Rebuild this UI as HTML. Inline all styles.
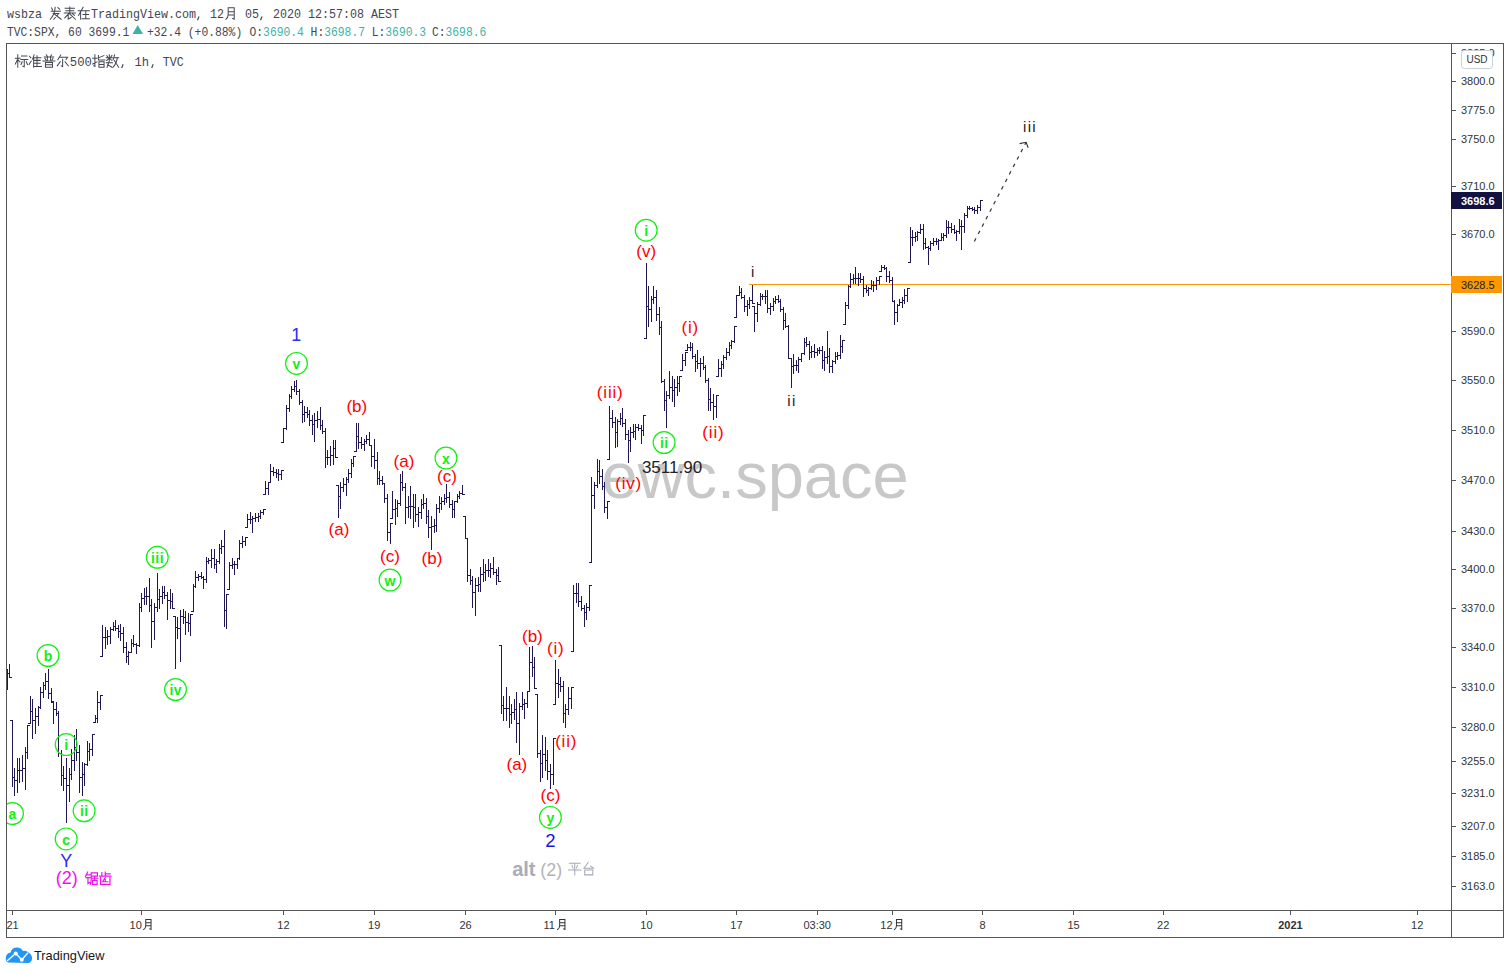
<!DOCTYPE html><html><head><meta charset="utf-8"><style>*{margin:0;padding:0}html,body{width:1510px;height:974px;background:#fff;overflow:hidden}svg{position:absolute;left:0;top:0}</style></head><body><svg width="1510" height="974"><text x="6.9" y="17.9" font-family="Liberation Mono" font-size="13" fill="#434651" textLength="35.00" lengthAdjust="spacingAndGlyphs">wsbza</text><path transform="translate(49.20,6.70) scale(13.2)" d="M.15 .35H.85M.45 .05Q.42 .6 .08 .95M.3 .52H.72L.35 .95M.42 .58L.9 .95M.66 .06L.8 .2M.18 .1L.26 .26" fill="none" stroke="#434651" stroke-width="0.0758" stroke-linecap="square"/><path transform="translate(63.20,6.70) scale(13.2)" d="M.15 .12H.85M.2 .3H.8M.08 .48H.92M.5 .02V.48M.45 .5L.12 .85M.38 .62V.95L.6 .82M.5 .55L.92 .95M.72 .55L.85 .66" fill="none" stroke="#434651" stroke-width="0.0758" stroke-linecap="square"/><path transform="translate(77.20,6.70) scale(13.2)" d="M.08 .3H.92M.45 .04L.1 .66M.26 .46V.96M.44 .6H.86M.65 .38V.9M.38 .92H.92" fill="none" stroke="#434651" stroke-width="0.0758" stroke-linecap="square"/><text x="90.9" y="17.9" font-family="Liberation Mono" font-size="13" fill="#434651" textLength="105.00" lengthAdjust="spacingAndGlyphs">TradingView.com</text><path transform="translate(195.90,6.70) scale(13.2)" d="M.22 .78L.14 .98" fill="none" stroke="#434651" stroke-width="0.0909" stroke-linecap="square"/><text x="209.9" y="17.9" font-family="Liberation Mono" font-size="13" fill="#434651" textLength="14.00" lengthAdjust="spacingAndGlyphs">12</text><path transform="translate(224.20,6.70) scale(13.2)" d="M.3 .08V.6Q.3 .85 .12 .96M.3 .08H.76V.95L.64 .9M.3 .38H.76M.3 .62H.76" fill="none" stroke="#434651" stroke-width="0.0758" stroke-linecap="square"/><text x="244.9" y="17.9" font-family="Liberation Mono" font-size="13" fill="#434651" textLength="14.00" lengthAdjust="spacingAndGlyphs">05</text><path transform="translate(258.90,6.70) scale(13.2)" d="M.22 .78L.14 .98" fill="none" stroke="#434651" stroke-width="0.0909" stroke-linecap="square"/><text x="272.9" y="17.9" font-family="Liberation Mono" font-size="13" fill="#434651" textLength="126.00" lengthAdjust="spacingAndGlyphs">2020 12:57:08 AEST</text><text x="6.9" y="35.6" font-family="Liberation Mono" font-size="12" fill="#434651" textLength="122.40" lengthAdjust="spacingAndGlyphs">TVC:SPX, 60 3699.1</text><path d="M132.5 34H143L137.75 25Z" fill="#3db3a6"/><text x="147" y="35.6" font-family="Liberation Mono" font-size="12" fill="#434651" textLength="95.20" lengthAdjust="spacingAndGlyphs">+32.4 (+0.88%)</text><text x="249.5" y="35.6" font-family="Liberation Mono" font-size="12" fill="#434651" textLength="13.60" lengthAdjust="spacingAndGlyphs">O:</text><text x="263.1" y="35.6" font-family="Liberation Mono" font-size="12" fill="#3db3a6" textLength="40.80" lengthAdjust="spacingAndGlyphs">3690.4</text><text x="310.6" y="35.6" font-family="Liberation Mono" font-size="12" fill="#434651" textLength="13.60" lengthAdjust="spacingAndGlyphs">H:</text><text x="324.20000000000005" y="35.6" font-family="Liberation Mono" font-size="12" fill="#3db3a6" textLength="40.80" lengthAdjust="spacingAndGlyphs">3698.7</text><text x="371.7" y="35.6" font-family="Liberation Mono" font-size="12" fill="#434651" textLength="13.60" lengthAdjust="spacingAndGlyphs">L:</text><text x="385.3" y="35.6" font-family="Liberation Mono" font-size="12" fill="#3db3a6" textLength="40.80" lengthAdjust="spacingAndGlyphs">3690.3</text><text x="431.9" y="35.6" font-family="Liberation Mono" font-size="12" fill="#434651" textLength="13.60" lengthAdjust="spacingAndGlyphs">C:</text><text x="445.5" y="35.6" font-family="Liberation Mono" font-size="12" fill="#3db3a6" textLength="40.80" lengthAdjust="spacingAndGlyphs">3698.6</text><path transform="translate(14.80,54.30) scale(13.5)" d="M.04 .3H.4M.22 .04V.96M.22 .35L.04 .72M.25 .42L.38 .56M.5 .12H.9M.45 .38H.96M.7 .38V.92L.6 .88M.55 .55L.46 .76M.85 .55L.94 .76" fill="none" stroke="#434651" stroke-width="0.0741" stroke-linecap="square"/><path transform="translate(28.50,54.30) scale(13.5)" d="M.08 .15L.18 .26M.04 .76L.2 .5M.42 .04L.3 .36M.38 .25V.96M.38 .25H.92M.63 .1V.9M.4 .45H.86M.4 .66H.86M.38 .9H.96" fill="none" stroke="#434651" stroke-width="0.0741" stroke-linecap="square"/><path transform="translate(42.20,54.30) scale(13.5)" d="M.3 .04L.38 .15M.7 .04L.62 .15M.15 .2H.85M.38 .2V.5M.62 .2V.5M.06 .5H.94M.2 .3L.28 .42M.8 .3L.72 .42M.24 .6V.96H.76V.6ZM.24 .77H.76" fill="none" stroke="#434651" stroke-width="0.0741" stroke-linecap="square"/><path transform="translate(55.90,54.30) scale(13.5)" d="M.36 .04L.14 .4M.25 .22H.86L.75 .38M.5 .36V.92L.4 .86M.32 .55L.1 .86M.68 .55L.92 .86" fill="none" stroke="#434651" stroke-width="0.0741" stroke-linecap="square"/><text x="69.8" y="65.9" font-family="Liberation Mono" font-size="13" fill="#434651" textLength="22.05" lengthAdjust="spacingAndGlyphs">500</text><path transform="translate(92.20,54.30) scale(13.5)" d="M.04 .3H.36M.2 .04V.9L.12 .85M.04 .72L.36 .56M.46 .08V.42H.94M.46 .27L.86 .1M.5 .55V.96H.88V.55ZM.5 .75H.88" fill="none" stroke="#434651" stroke-width="0.0741" stroke-linecap="square"/><path transform="translate(105.70,54.30) scale(13.5)" d="M.04 .25H.5M.27 .04V.48M.08 .1L.15 .2M.46 .08L.38 .2M.27 .28L.07 .46M.27 .28L.46 .46M.04 .62H.5M.26 .5L.1 .96M.15 .76L.46 .96M.66 .04L.55 .4M.6 .25H.96M.86 .25Q.8 .7 .54 .96M.64 .46L.96 .96" fill="none" stroke="#434651" stroke-width="0.0741" stroke-linecap="square"/><path transform="translate(120.00,54.30) scale(13.5)" d="M.22 .78L.14 .98" fill="none" stroke="#434651" stroke-width="0.0889" stroke-linecap="square"/><text x="134.5" y="65.9" font-family="Liberation Mono" font-size="13" fill="#434651" textLength="14.60" lengthAdjust="spacingAndGlyphs">1h</text><path transform="translate(150.00,54.30) scale(13.5)" d="M.22 .78L.14 .98" fill="none" stroke="#434651" stroke-width="0.0889" stroke-linecap="square"/><text x="162.8" y="65.9" font-family="Liberation Mono" font-size="13" fill="#434651" textLength="21.00" lengthAdjust="spacingAndGlyphs">TVC</text><defs><clipPath id="cp"><rect x="7" y="44" width="1444" height="866"/></clipPath></defs><g clip-path="url(#cp)"><text x="601.5" y="498" font-family="Liberation Sans" font-size="65" fill="#c8c8c8">ewc.space</text><path d="M749 284.5H1451" stroke="#ff9800" stroke-width="1" shape-rendering="crispEdges"/><path d="M7.5 669V690M5 679.5H7M8 673.5H10M9.5 664V678M7 673.5H9M10 677.5H12M12.5 720V787M10 720.5H12M13 777.5H15M14.5 768V796M12 777.5H14M15 780.5H17M17.5 758V793M15 780.5H17M18 770.5H20M19.5 758V783M17 770.5H19M20 770.5H22M22.5 755V782M20 770.5H22M23 768.5H25M25.5 747V790M23 768.5H25M26 752.5H28M27.5 725V759M25 752.5H27M28 725.5H30M30.5 696V724M28 723.5H30M31 711.5H33M32.5 699V739M30 711.5H32M33 720.5H35M35.5 708V734M33 720.5H35M36 716.5H38M38.5 706V726M36 716.5H38M39 707.5H41M40.5 687V709M38 707.5H40M41 692.5H43M43.5 682V698M41 692.5H43M44 685.5H46M45.5 673V690M43 685.5H45M46 681.5H48M48.5 669V699M46 681.5H48M49 693.5H51M51.5 688V702M49 693.5H51M52 701.5H54M53.5 702V724M51 702.5H53M54 709.5H56M56.5 702V716M54 709.5H56M57 713.5H59M58.5 711V757M56 713.5H58M59 753.5H61M61.5 750V786M59 753.5H61M62 775.5H64M63.5 766V791M61 775.5H63M64 778.5H66M66.5 758V823M64 778.5H66M67 785.5H69M69.5 768V802M67 785.5H69M70 774.5H72M71.5 749V780M69 774.5H71M72 760.5H74M74.5 735V771M72 760.5H74M75 747.5H77M76.5 729V761M74 747.5H76M77 752.5H79M79.5 745V793M77 752.5H79M80 777.5H82M82.5 762V796M80 777.5H82M83 774.5H85M84.5 763V786M82 774.5H84M85 764.5H87M87.5 741V766M85 764.5H87M88 751.5H90M89.5 743V761M87 751.5H89M90 749.5H92M92.5 734V756M90 749.5H92M93 734.5H95M95.5 715V723M93 722.5H95M96 718.5H98M97.5 691V723M95 718.5H97M98 702.5H100M100.5 695V710M98 702.5H100M101 695.5H103M102.5 625V657M100 656.5H102M103 637.5H105M105.5 627V649M103 637.5H105M106 637.5H108M107.5 630V645M105 637.5H107M108 636.5H110M110.5 627V644M108 636.5H110M111 629.5H113M113.5 622V631M111 629.5H113M114 626.5H116M115.5 620V631M113 626.5H115M116 628.5H118M118.5 625V638M116 628.5H118M119 631.5H121M120.5 624V641M118 631.5H120M121 633.5H123M123.5 627V653M121 633.5H123M124 647.5H126M126.5 642V663M124 647.5H126M127 656.5H129M128.5 651V665M126 656.5H128M129 652.5H131M131.5 639V653M129 652.5H131M132 643.5H134M133.5 635V647M131 643.5H133M134 644.5H136M136.5 643V654M134 644.5H136M137 645.5H139M139.5 603V647M137 645.5H139M140 607.5H142M141.5 593V612M139 607.5H141M142 598.5H144M144.5 588V605M142 598.5H144M145 596.5H147M146.5 587V605M144 596.5H146M147 596.5H149M149.5 578V612M147 596.5H149M150 605.5H152M151.5 599V648M149 605.5H151M152 621.5H154M154.5 603V640M152 621.5H154M155 607.5H157M157.5 573V612M155 607.5H157M158 599.5H160M159.5 589V609M157 599.5H159M160 596.5H162M162.5 586V604M160 596.5H162M163 592.5H165M164.5 586V599M162 592.5H164M165 595.5H167M167.5 592V620M165 595.5H167M168 600.5H170M170.5 589V609M168 600.5H170M171 601.5H173M172.5 593V609M170 601.5H172M173 608.5H175M175.5 616V669M173 616.5H175M176 627.5H178M177.5 617V639M175 627.5H177M178 628.5H180M180.5 610V662M178 628.5H180M181 616.5H183M183.5 609V624M181 616.5H183M184 617.5H186M185.5 611V635M183 617.5H185M186 622.5H188M188.5 613V632M186 622.5H188M189 623.5H191M190.5 614V636M188 623.5H190M191 614.5H193M193.5 584V612M191 611.5H193M194 586.5H196M195.5 571V588M193 586.5H195M196 577.5H198M198.5 574V581M196 577.5H198M199 576.5H201M201.5 572V579M199 576.5H201M202 577.5H204M203.5 576V589M201 577.5H203M204 579.5H206M206.5 557V583M204 579.5H206M207 561.5H209M208.5 558V564M206 561.5H208M209 560.5H211M211.5 549V568M209 560.5H211M212 558.5H214M214.5 549V569M212 558.5H214M215 564.5H217M216.5 559V573M214 564.5H216M217 561.5H219M219.5 544V564M217 561.5H219M220 548.5H222M221.5 540V554M219 548.5H221M222 546.5H224M224.5 530V627M222 546.5H224M225 610.5H227M226.5 594V629M224 610.5H226M227 594.5H229M229.5 562V590M227 589.5H229M230 565.5H232M232.5 558V569M230 565.5H232M233 564.5H235M234.5 561V575M232 564.5H234M235 564.5H237M237.5 558V569M235 564.5H237M238 558.5H240M239.5 540V560M237 558.5H239M240 543.5H242M242.5 536V548M240 543.5H242M243 541.5H245M245.5 537V546M243 541.5H245M246 537.5H248M247.5 514V528M245 527.5H247M248 519.5H250M250.5 512V524M248 519.5H250M251 519.5H253M252.5 516V533M250 519.5H252M253 518.5H255M255.5 513V522M253 518.5H255M256 517.5H258M258.5 513V522M256 517.5H258M259 516.5H261M260.5 510V519M258 516.5H260M261 512.5H263M263.5 509V515M261 512.5H263M264 509.5H266M265.5 481V495M263 494.5H265M266 488.5H268M268.5 482V495M266 488.5H268M269 482.5H271M270.5 464V483M268 482.5H270M271 471.5H273M273.5 467V476M271 471.5H273M274 472.5H276M276.5 469V478M274 472.5H276M277 473.5H279M278.5 469V481M276 473.5H278M279 474.5H281M281.5 470V480M279 474.5H281M282 470.5H284M283.5 428V443M281 442.5H283M284 428.5H286M286.5 405V430M284 428.5H286M287 408.5H289M289.5 394V412M287 408.5H289M290 396.5H292M291.5 386V399M289 396.5H291M292 389.5H294M294.5 381V392M292 389.5H294M295 386.5H297M296.5 380V395M294 386.5H296M297 391.5H299M299.5 389V405M297 391.5H299M300 402.5H302M302.5 400V423M300 402.5H302M303 414.5H305M304.5 406V422M302 414.5H304M305 412.5H307M307.5 407V418M305 412.5H307M308 414.5H310M309.5 410V426M307 414.5H309M310 420.5H312M312.5 415V435M310 420.5H312M313 424.5H315M314.5 413V442M312 424.5H314M315 420.5H317M317.5 411V428M315 420.5H317M318 419.5H320M320.5 407V430M318 419.5H320M321 425.5H323M322.5 420V434M320 425.5H322M323 431.5H325M325.5 428V468M323 431.5H325M326 457.5H328M327.5 450V465M325 457.5H327M328 457.5H330M330.5 446V466M328 457.5H330M331 455.5H333M333.5 440V465M331 455.5H333M334 448.5H336M335.5 440V458M333 448.5H335M336 457.5H338M338.5 485V518M336 485.5H338M339 496.5H341M340.5 482V509M338 496.5H340M341 487.5H343M343.5 478V492M341 487.5H343M344 484.5H346M346.5 477V496M344 484.5H346M347 479.5H349M348.5 469V483M346 479.5H348M349 473.5H351M351.5 459V478M349 473.5H351M352 463.5H354M353.5 456V467M351 463.5H353M354 456.5H356M356.5 423V452M354 451.5H356M357 436.5H359M358.5 423V449M356 436.5H358M359 442.5H361M361.5 437V449M359 442.5H361M362 444.5H364M364.5 439V451M362 444.5H364M365 441.5H367M366.5 435V444M364 441.5H366M367 439.5H369M369.5 432V446M367 439.5H369M370 445.5H372M371.5 445V467M369 445.5H371M372 456.5H374M374.5 439V469M372 456.5H374M375 460.5H377M377.5 452V485M375 460.5H377M378 478.5H380M379.5 471V485M377 478.5H379M380 480.5H382M382.5 476V485M380 480.5H382M383 483.5H385M384.5 483V503M382 483.5H384M385 498.5H387M387.5 494V541M385 498.5H387M388 532.5H390M390.5 523V544M388 532.5H390M391 523.5H393M392.5 491V519M390 518.5H392M393 509.5H395M395.5 499V525M393 509.5H395M396 508.5H398M397.5 500V517M395 508.5H397M398 503.5H400M400.5 474V506M398 503.5H400M401 482.5H403M402.5 471V491M400 482.5H402M403 487.5H405M405.5 483V524M403 487.5H405M406 507.5H408M408.5 496V518M406 507.5H408M409 506.5H411M410.5 486V519M408 506.5H410M411 506.5H413M413.5 494V528M411 506.5H413M414 507.5H416M415.5 494V522M413 507.5H415M416 514.5H418M418.5 507V527M416 514.5H418M419 512.5H421M421.5 499V519M419 512.5H421M422 504.5H424M423.5 494V509M421 504.5H423M424 503.5H426M426.5 498V524M424 503.5H426M427 516.5H429M428.5 510V538M426 516.5H428M429 527.5H431M431.5 516V550M429 527.5H431M432 526.5H434M434.5 519V533M432 526.5H434M435 525.5H437M436.5 504V532M434 525.5H436M437 508.5H439M439.5 496V513M437 508.5H439M440 503.5H442M441.5 497V510M439 503.5H441M442 501.5H444M444.5 494V505M442 501.5H444M445 498.5H447M446.5 484V503M444 498.5H446M447 497.5H449M449.5 492V508M447 497.5H449M450 504.5H452M452.5 500V518M450 504.5H452M453 509.5H455M454.5 501V518M452 509.5H454M455 501.5H457M457.5 494V503M455 501.5H457M458 496.5H460M459.5 491V499M457 496.5H459M460 493.5H462M462.5 485V495M460 493.5H462M463 494.5H465M465.5 516V539M463 516.5H465M466 538.5H468M467.5 538V582M465 538.5H467M468 575.5H470M470.5 569V585M468 575.5H470M471 580.5H473M472.5 576V608M470 580.5H472M473 592.5H475M475.5 578V616M473 592.5H475M476 585.5H478M478.5 577V592M476 585.5H478M479 584.5H481M480.5 567V592M478 584.5H480M481 574.5H483M483.5 559V582M481 574.5H483M484 572.5H486M485.5 564V581M483 572.5H485M486 570.5H488M488.5 559V577M486 570.5H488M489 570.5H491M490.5 563V578M488 570.5H490M491 568.5H493M493.5 557V575M491 568.5H493M494 572.5H496M496.5 569V585M494 572.5H496M497 575.5H499M498.5 567V582M496 575.5H498M499 581.5H501M501.5 645V714M499 645.5H501M502 705.5H504M503.5 696V721M501 705.5H503M504 708.5H506M506.5 687V721M504 708.5H506M507 708.5H509M509.5 696V728M507 708.5H509M510 714.5H512M511.5 704V724M509 714.5H511M512 712.5H514M514.5 699V720M512 712.5H514M515 709.5H517M516.5 692V743M514 709.5H516M517 723.5H519M519.5 703V755M517 723.5H519M520 706.5H522M522.5 692V710M520 706.5H522M523 704.5H525M524.5 699V719M522 704.5H524M525 703.5H527M527.5 691V708M525 703.5H527M528 691.5H530M529.5 647V692M527 691.5H529M530 662.5H532M532.5 646V677M530 662.5H532M533 667.5H535M534.5 657V689M532 667.5H534M535 688.5H537M537.5 694V758M535 694.5H537M538 753.5H540M540.5 750V782M538 753.5H540M541 763.5H543M542.5 735V778M540 763.5H542M543 754.5H545M545.5 737V771M543 754.5H545M546 760.5H548M547.5 750V780M545 760.5H547M548 771.5H550M550.5 764V789M548 771.5H550M551 774.5H553M553.5 738V785M551 774.5H553M554 738.5H556M555.5 660V705M553 704.5H555M556 683.5H558M558.5 669V698M556 683.5H558M559 684.5H561M560.5 677V692M558 684.5H560M561 686.5H563M563.5 681V723M561 686.5H563M564 713.5H566M565.5 704V728M563 713.5H565M566 709.5H568M568.5 687V715M566 709.5H568M569 698.5H571M571.5 687V709M569 698.5H571M572 687.5H574M573.5 585V652M571 651.5H573M574 593.5H576M576.5 583V603M574 593.5H576M577 593.5H579M578.5 583V607M576 593.5H578M579 601.5H581M581.5 596V611M579 601.5H581M582 608.5H584M584.5 605V627M582 608.5H584M585 612.5H587M586.5 603V620M584 612.5H586M587 607.5H589M589.5 585V611M587 607.5H589M590 585.5H592M591.5 477V563M589 562.5H591M592 495.5H594M594.5 482V509M592 495.5H594M595 485.5H597M597.5 459V488M595 485.5H597M598 471.5H600M599.5 460V484M597 471.5H599M600 476.5H602M602.5 469V490M600 476.5H602M603 486.5H605M604.5 482V513M602 486.5H604M605 507.5H607M607.5 501V519M605 507.5H607M608 501.5H610M609.5 406V460M607 459.5H609M610 418.5H612M612.5 410V428M610 418.5H612M613 422.5H615M615.5 417V448M613 422.5H615M616 432.5H618M617.5 419V447M615 432.5H617M618 421.5H620M620.5 413V425M618 421.5H620M621 418.5H623M622.5 408V427M620 418.5H622M623 423.5H625M625.5 419V440M623 423.5H625M626 434.5H628M628.5 430V463M626 434.5H628M629 440.5H631M630.5 427V452M628 440.5H630M631 432.5H633M633.5 424V438M631 432.5H633M634 431.5H636M635.5 424V440M633 431.5H635M636 427.5H638M638.5 424V431M636 427.5H638M639 428.5H641M641.5 425V444M639 428.5H641M642 430.5H644M643.5 415V436M641 430.5H643M644 415.5H646M646.5 263V339M644 338.5H646M647 306.5H649M648.5 286V327M646 306.5H648M649 309.5H651M651.5 296V322M649 309.5H651M652 299.5H654M653.5 286V304M651 299.5H653M654 297.5H656M656.5 290V321M654 297.5H656M657 314.5H659M659.5 307V335M657 314.5H659M660 327.5H662M661.5 321V383M659 327.5H661M662 381.5H664M664.5 379V411M662 381.5H664M665 400.5H667M666.5 391V428M664 400.5H666M667 395.5H669M669.5 371V399M667 395.5H669M670 387.5H672M672.5 376V402M670 387.5H672M673 390.5H675M674.5 379V407M672 390.5H674M675 387.5H677M677.5 376V396M675 387.5H677M678 383.5H680M679.5 376V392M677 383.5H679M680 376.5H682M682.5 354V371M680 370.5H682M683 360.5H685M685.5 352V366M683 360.5H685M686 352.5H688M687.5 344V351M685 350.5H687M688 347.5H690M690.5 342V351M688 347.5H690M691 347.5H693M692.5 343V359M690 347.5H692M693 356.5H695M695.5 354V372M693 356.5H695M696 361.5H698M697.5 350V369M695 361.5H697M698 363.5H700M700.5 358V377M698 363.5H700M701 363.5H703M703.5 356V370M701 363.5H703M704 367.5H706M705.5 365V383M703 367.5H705M706 380.5H708M708.5 378V411M706 380.5H708M709 399.5H711M710.5 388V411M708 399.5H710M711 402.5H713M713.5 394V420M711 402.5H713M714 406.5H716M716.5 395V418M714 406.5H716M717 395.5H719M718.5 359V377M716 376.5H718M719 368.5H721M721.5 361V377M719 368.5H721M722 364.5H724M723.5 355V369M721 364.5H723M724 357.5H726M726.5 348V360M724 357.5H726M727 352.5H729M729.5 342V356M727 352.5H729M730 345.5H732M731.5 340V349M729 345.5H731M732 341.5H734M734.5 326V343M732 341.5H734M735 326.5H737M736.5 295V318M734 317.5H736M737 295.5H739M739.5 286V296M737 295.5H739M740 292.5H742M741.5 288V299M739 292.5H741M742 297.5H744M744.5 295V312M742 297.5H744M745 306.5H747M747.5 300V316M745 306.5H747M748 304.5H750M749.5 297V309M747 304.5H749M750 300.5H752M752.5 285V304M750 300.5H752M753 303.5H755M754.5 306V332M752 306.5H754M755 313.5H757M757.5 302V322M755 313.5H757M758 304.5H760M760.5 293V306M758 304.5H760M761 296.5H763M762.5 294V300M760 296.5H762M763 296.5H765M765.5 290V304M763 296.5H765M766 296.5H768M767.5 290V313M765 296.5H767M768 308.5H770M770.5 303V315M768 308.5H770M771 306.5H773M773.5 298V311M771 306.5H773M774 301.5H776M775.5 296V304M773 301.5H775M776 299.5H778M778.5 295V303M776 299.5H778M779 301.5H781M780.5 299V312M778 301.5H780M781 309.5H783M783.5 307V330M781 309.5H783M784 320.5H786M785.5 313V328M783 320.5H785M786 326.5H788M788.5 325V359M786 326.5H788M789 358.5H791M791.5 358V388M789 358.5H791M792 366.5H794M793.5 354V374M791 366.5H793M794 365.5H796M796.5 360V371M794 365.5H796M797 365.5H799M798.5 357V373M796 365.5H798M799 359.5H801M801.5 353V362M799 359.5H801M802 353.5H804M804.5 338V355M802 353.5H804M805 342.5H807M806.5 337V347M804 342.5H806M807 344.5H809M809.5 341V360M807 344.5H809M810 352.5H812M811.5 346V358M809 352.5H811M812 351.5H814M814.5 344V358M812 351.5H814M815 352.5H817M817.5 348V356M815 352.5H817M818 350.5H820M819.5 347V354M817 350.5H819M820 350.5H822M822.5 346V369M820 350.5H822M823 360.5H825M824.5 351V371M822 360.5H824M825 357.5H827M827.5 331V364M825 357.5H827M828 356.5H830M829.5 348V373M827 356.5H829M830 366.5H832M832.5 360V373M830 366.5H832M833 361.5H835M835.5 352V364M833 361.5H835M836 356.5H838M837.5 352V360M835 356.5H837M838 355.5H840M840.5 335V359M838 355.5H840M841 346.5H843M842.5 340V353M840 346.5H842M843 340.5H845M845.5 302V325M843 324.5H845M846 305.5H848M848.5 285V309M846 305.5H848M849 286.5H851M850.5 273V288M848 286.5H850M851 279.5H853M853.5 274V284M851 279.5H853M854 278.5H856M855.5 267V284M853 278.5H855M856 278.5H858M858.5 273V286M856 278.5H858M859 278.5H861M860.5 273V283M858 278.5H860M861 279.5H863M863.5 276V297M861 279.5H863M864 288.5H866M866.5 285V293M864 288.5H866M867 290.5H869M868.5 287V296M866 290.5H868M869 288.5H871M871.5 280V290M869 288.5H871M872 285.5H874M873.5 281V292M871 285.5H873M874 285.5H876M876.5 277V290M874 285.5H876M877 280.5H879M879.5 276V285M877 280.5H879M880 276.5H882M881.5 265V272M879 271.5H881M882 267.5H884M884.5 265V270M882 267.5H884M885 268.5H887M886.5 267V282M884 268.5H886M887 276.5H889M889.5 271V283M887 276.5H889M890 280.5H892M892.5 277V302M890 280.5H892M893 301.5H895M894.5 300V325M892 301.5H894M895 312.5H897M897.5 304V322M895 312.5H897M898 305.5H900M899.5 299V306M897 305.5H899M900 302.5H902M902.5 297V308M900 302.5H902M903 300.5H905M904.5 289V304M902 300.5H904M905 295.5H907M907.5 288V302M905 295.5H907M908 288.5H910M910.5 227V263M908 262.5H910M911 237.5H913M912.5 230V246M910 237.5H912M913 237.5H915M915.5 232V242M913 237.5H915M916 236.5H918M917.5 231V241M915 236.5H917M918 232.5H920M920.5 224V234M918 232.5H920M921 229.5H923M923.5 224V250M921 229.5H923M924 243.5H926M925.5 238V249M923 243.5H925M926 247.5H928M928.5 246V265M926 247.5H928M929 248.5H931M930.5 241V251M928 248.5H930M931 243.5H933M933.5 238V246M931 243.5H933M934 241.5H936M936.5 238V245M934 241.5H936M937 241.5H939M938.5 239V250M936 241.5H938M939 240.5H941M941.5 233V241M939 240.5H941M942 237.5H944M943.5 233V241M941 237.5H943M944 235.5H946M946.5 220V238M944 235.5H946M947 227.5H949M948.5 221V234M946 227.5H948M949 227.5H951M951.5 223V233M949 227.5H951M952 229.5H954M954.5 225V234M952 229.5H954M955 232.5H957M956.5 230V241M954 232.5H956M957 231.5H959M959.5 219V234M957 231.5H959M960 226.5H962M961.5 220V250M959 226.5H961M962 226.5H964M964.5 213V233M962 226.5H964M965 215.5H967M967.5 206V218M965 215.5H967M968 208.5H970M969.5 206V210M967 208.5H969M970 208.5H972M972.5 207V211M970 208.5H972M973 209.5H975M974.5 207V214M972 209.5H974M975 210.5H977M977.5 205V214M975 210.5H977M978 207.5H980M980.5 200V211M978 207.5H980M981 200.5H983" stroke="#211650" stroke-width="1" fill="none" shape-rendering="crispEdges"/><path d="M974.3 241.5L1026.1 142.3" stroke="#333" stroke-width="1.2" stroke-dasharray="3.6 4.8" fill="none"/><path d="M1019.6 143.6L1026.1 142.3L1028.2 147.7" stroke="#333" stroke-width="1.1" fill="none"/><circle cx="12.5" cy="813.5" r="10.9" fill="none" stroke="#12ee12" stroke-width="1.2"/><text x="12.7" y="819.1" font-family="Liberation Sans" font-size="14" fill="#12ee12" text-anchor="middle" font-weight="bold" letter-spacing="0.4">a</text><circle cx="48" cy="655.5" r="10.9" fill="none" stroke="#12ee12" stroke-width="1.2"/><text x="48.2" y="661.1" font-family="Liberation Sans" font-size="14" fill="#12ee12" text-anchor="middle" font-weight="bold" letter-spacing="0.4">b</text><circle cx="66.2" cy="744.6" r="10.9" fill="none" stroke="#12ee12" stroke-width="1.2"/><text x="66.4" y="750.2" font-family="Liberation Sans" font-size="14" fill="#12ee12" text-anchor="middle" font-weight="bold" letter-spacing="0.4">i</text><circle cx="66.2" cy="838.9" r="10.9" fill="none" stroke="#12ee12" stroke-width="1.2"/><text x="66.4" y="844.5" font-family="Liberation Sans" font-size="14" fill="#12ee12" text-anchor="middle" font-weight="bold" letter-spacing="0.4">c</text><circle cx="84.1" cy="810.8" r="10.9" fill="none" stroke="#12ee12" stroke-width="1.2"/><text x="84.3" y="816.4" font-family="Liberation Sans" font-size="14" fill="#12ee12" text-anchor="middle" font-weight="bold" letter-spacing="0.4">ii</text><circle cx="157.3" cy="557.3" r="10.9" fill="none" stroke="#12ee12" stroke-width="1.2"/><text x="157.5" y="562.9" font-family="Liberation Sans" font-size="14" fill="#12ee12" text-anchor="middle" font-weight="bold" letter-spacing="0.4">iii</text><circle cx="175.5" cy="689.5" r="10.9" fill="none" stroke="#12ee12" stroke-width="1.2"/><text x="175.7" y="695.1" font-family="Liberation Sans" font-size="14" fill="#12ee12" text-anchor="middle" font-weight="bold" letter-spacing="0.4">iv</text><circle cx="296.5" cy="363.4" r="10.9" fill="none" stroke="#12ee12" stroke-width="1.2"/><text x="296.7" y="369.0" font-family="Liberation Sans" font-size="14" fill="#12ee12" text-anchor="middle" font-weight="bold" letter-spacing="0.4">v</text><circle cx="390" cy="580" r="10.9" fill="none" stroke="#12ee12" stroke-width="1.2"/><text x="390.2" y="585.6" font-family="Liberation Sans" font-size="14" fill="#12ee12" text-anchor="middle" font-weight="bold" letter-spacing="0.4">w</text><circle cx="446" cy="458" r="10.9" fill="none" stroke="#12ee12" stroke-width="1.2"/><text x="446.2" y="463.6" font-family="Liberation Sans" font-size="14" fill="#12ee12" text-anchor="middle" font-weight="bold" letter-spacing="0.4">x</text><circle cx="550.4" cy="817.4" r="10.9" fill="none" stroke="#12ee12" stroke-width="1.2"/><text x="550.6" y="823.0" font-family="Liberation Sans" font-size="14" fill="#12ee12" text-anchor="middle" font-weight="bold" letter-spacing="0.4">y</text><circle cx="646.2" cy="230.2" r="10.9" fill="none" stroke="#12ee12" stroke-width="1.2"/><text x="646.4000000000001" y="235.79999999999998" font-family="Liberation Sans" font-size="14" fill="#12ee12" text-anchor="middle" font-weight="bold" letter-spacing="0.4">i</text><circle cx="664.1" cy="442.5" r="10.9" fill="none" stroke="#12ee12" stroke-width="1.2"/><text x="664.3000000000001" y="448.1" font-family="Liberation Sans" font-size="14" fill="#12ee12" text-anchor="middle" font-weight="bold" letter-spacing="0.4">ii</text><text x="339" y="535" font-family="Liberation Sans" font-size="17" fill="#ff0000" text-anchor="middle" font-weight="normal" letter-spacing="0">(a)</text><text x="356.8" y="412.3" font-family="Liberation Sans" font-size="17" fill="#ff0000" text-anchor="middle" font-weight="normal" letter-spacing="0">(b)</text><text x="390" y="562" font-family="Liberation Sans" font-size="17" fill="#ff0000" text-anchor="middle" font-weight="normal" letter-spacing="0">(c)</text><text x="404" y="467" font-family="Liberation Sans" font-size="17" fill="#ff0000" text-anchor="middle" font-weight="normal" letter-spacing="0">(a)</text><text x="432" y="564" font-family="Liberation Sans" font-size="17" fill="#ff0000" text-anchor="middle" font-weight="normal" letter-spacing="0">(b)</text><text x="447" y="482" font-family="Liberation Sans" font-size="17" fill="#ff0000" text-anchor="middle" font-weight="normal" letter-spacing="0">(c)</text><text x="516.9" y="770" font-family="Liberation Sans" font-size="17" fill="#ff0000" text-anchor="middle" font-weight="normal" letter-spacing="0">(a)</text><text x="532.4" y="642.2" font-family="Liberation Sans" font-size="17" fill="#ff0000" text-anchor="middle" font-weight="normal" letter-spacing="0">(b)</text><text x="550.4" y="800.5" font-family="Liberation Sans" font-size="17" fill="#ff0000" text-anchor="middle" font-weight="normal" letter-spacing="0">(c)</text><text x="555.7" y="654.1" font-family="Liberation Sans" font-size="17" fill="#ff0000" text-anchor="middle" font-weight="normal" letter-spacing="0.8">(i)</text><text x="566.2" y="747" font-family="Liberation Sans" font-size="17" fill="#ff0000" text-anchor="middle" font-weight="normal" letter-spacing="0.8">(ii)</text><text x="610.2" y="398.2" font-family="Liberation Sans" font-size="17" fill="#ff0000" text-anchor="middle" font-weight="normal" letter-spacing="0.8">(iii)</text><text x="628.7" y="489" font-family="Liberation Sans" font-size="17" fill="#ff0000" text-anchor="middle" font-weight="normal" letter-spacing="0.8">(iv)</text><text x="646.2" y="256.8" font-family="Liberation Sans" font-size="17" fill="#ff0000" text-anchor="middle" font-weight="normal" letter-spacing="0">(v)</text><text x="690.3" y="332.8" font-family="Liberation Sans" font-size="17" fill="#ff0000" text-anchor="middle" font-weight="normal" letter-spacing="0.8">(i)</text><text x="713.4" y="438.2" font-family="Liberation Sans" font-size="17" fill="#ff0000" text-anchor="middle" font-weight="normal" letter-spacing="0.8">(ii)</text><text x="296.3" y="341" font-family="Liberation Sans" font-size="18" fill="#2b2bf5" text-anchor="middle" font-weight="normal" >1</text><text x="66.3" y="867" font-family="Liberation Sans" font-size="18" fill="#2b2bf5" text-anchor="middle" font-weight="normal" >Y</text><text x="550.4" y="847" font-family="Liberation Sans" font-size="18.5" fill="#1414e6" text-anchor="middle" font-weight="normal" >2</text><text x="1030" y="132" font-family="Liberation Sans" font-size="15" fill="#222" text-anchor="middle" font-weight="normal" letter-spacing="1.3">iii</text><text x="752.6" y="277" font-family="Liberation Sans" font-size="15" fill="#222" text-anchor="middle" font-weight="normal" >i</text><text x="792" y="405.5" font-family="Liberation Sans" font-size="15" fill="#222" text-anchor="middle" font-weight="normal" letter-spacing="1.3">ii</text><text x="672" y="473" font-family="Liberation Sans" font-size="17" fill="#222" text-anchor="middle" font-weight="normal" >3511.90</text><text x="66.8" y="884" font-family="Liberation Sans" font-size="18" fill="#ee11ee" text-anchor="middle" font-weight="normal" >(2)</text><path transform="translate(85.00,871.50) scale(13.5)" d="M.2 .04L.04 .36M.12 .25H.36M.08 .46H.36M.22 .46V.9L.36 .8M.46 .1H.92V.35H.46M.46 .1V.6Q.46 .85 .38 .96M.5 .5H.96M.72 .35V.65M.56 .65V.96H.9V.65Z" fill="none" stroke="#ee11ee" stroke-width="0.0889" stroke-linecap="square"/><path transform="translate(98.50,871.50) scale(13.5)" d="M.5 .04V.35M.5 .18H.86M.08 .35H.92M.25 .08V.35M.15 .45V.96H.85V.45M.5 .46L.3 .76H.7M.5 .6V.76" fill="none" stroke="#ee11ee" stroke-width="0.0889" stroke-linecap="square"/><text x="512.2" y="875.7" font-family="Liberation Sans" font-size="20" fill="#a9adb9" text-anchor="start" font-weight="bold" >alt</text><text x="540.3" y="875.5" font-family="Liberation Sans" font-size="18" fill="#b4b4b4" text-anchor="start" font-weight="normal" >(2)</text><path transform="translate(568.00,862.00) scale(13.5)" d="M.1 .1H.9M.3 .25L.38 .45M.7 .25L.62 .45M.04 .6H.96M.5 .1V.96" fill="none" stroke="#a4a8b4" stroke-width="0.0741" stroke-linecap="square"/><path transform="translate(582.00,862.00) scale(13.5)" d="M.46 .04L.14 .46H.86M.64 .3L.8 .42M.2 .6V.96H.8V.6ZM.2 .95H.8" fill="none" stroke="#a4a8b4" stroke-width="0.0741" stroke-linecap="square"/></g><g stroke="#555" stroke-width="1" fill="none" shape-rendering="crispEdges"><rect x="6.5" y="43.5" width="1497" height="894"/><path d="M1451.5 43V937M6 910.5H1504"/><path d="M1452 53.5H1456M1452 81.5H1456M1452 110.5H1456M1452 139.5H1456M1452 186.5H1456M1452 234.5H1456M1452 331.5H1456M1452 380.5H1456M1452 430.5H1456M1452 480.5H1456M1452 531.5H1456M1452 569.5H1456M1452 608.5H1456M1452 647.5H1456M1452 687.5H1456M1452 727.5H1456M1452 761.5H1456M1452 793.5H1456M1452 826.5H1456M1452 856.5H1456M1452 886.5H1456"/><path d="M12.5 911V915M141.5 911V915M283.5 911V915M374.5 911V915M465.5 911V915M555.5 911V915M646.5 911V915M736.5 911V915M817.5 911V915M892.5 911V915M982.5 911V915M1073.5 911V915M1163.5 911V915M1290.5 911V915M1417.5 911V915"/></g><text x="1461" y="57" font-family="Liberation Sans" font-size="11" fill="#333" text-anchor="start" font-weight="normal" >3825.0</text><text x="1461" y="85" font-family="Liberation Sans" font-size="11" fill="#333" text-anchor="start" font-weight="normal" >3800.0</text><text x="1461" y="114" font-family="Liberation Sans" font-size="11" fill="#333" text-anchor="start" font-weight="normal" >3775.0</text><text x="1461" y="143" font-family="Liberation Sans" font-size="11" fill="#333" text-anchor="start" font-weight="normal" >3750.0</text><text x="1461" y="190" font-family="Liberation Sans" font-size="11" fill="#333" text-anchor="start" font-weight="normal" >3710.0</text><text x="1461" y="238" font-family="Liberation Sans" font-size="11" fill="#333" text-anchor="start" font-weight="normal" >3670.0</text><text x="1461" y="335" font-family="Liberation Sans" font-size="11" fill="#333" text-anchor="start" font-weight="normal" >3590.0</text><text x="1461" y="384" font-family="Liberation Sans" font-size="11" fill="#333" text-anchor="start" font-weight="normal" >3550.0</text><text x="1461" y="434" font-family="Liberation Sans" font-size="11" fill="#333" text-anchor="start" font-weight="normal" >3510.0</text><text x="1461" y="484" font-family="Liberation Sans" font-size="11" fill="#333" text-anchor="start" font-weight="normal" >3470.0</text><text x="1461" y="535" font-family="Liberation Sans" font-size="11" fill="#333" text-anchor="start" font-weight="normal" >3430.0</text><text x="1461" y="573" font-family="Liberation Sans" font-size="11" fill="#333" text-anchor="start" font-weight="normal" >3400.0</text><text x="1461" y="612" font-family="Liberation Sans" font-size="11" fill="#333" text-anchor="start" font-weight="normal" >3370.0</text><text x="1461" y="651" font-family="Liberation Sans" font-size="11" fill="#333" text-anchor="start" font-weight="normal" >3340.0</text><text x="1461" y="691" font-family="Liberation Sans" font-size="11" fill="#333" text-anchor="start" font-weight="normal" >3310.0</text><text x="1461" y="731" font-family="Liberation Sans" font-size="11" fill="#333" text-anchor="start" font-weight="normal" >3280.0</text><text x="1461" y="765" font-family="Liberation Sans" font-size="11" fill="#333" text-anchor="start" font-weight="normal" >3255.0</text><text x="1461" y="797" font-family="Liberation Sans" font-size="11" fill="#333" text-anchor="start" font-weight="normal" >3231.0</text><text x="1461" y="830" font-family="Liberation Sans" font-size="11" fill="#333" text-anchor="start" font-weight="normal" >3207.0</text><text x="1461" y="860" font-family="Liberation Sans" font-size="11" fill="#333" text-anchor="start" font-weight="normal" >3185.0</text><text x="1461" y="890" font-family="Liberation Sans" font-size="11" fill="#333" text-anchor="start" font-weight="normal" >3163.0</text><rect x="1451" y="192" width="51" height="17" fill="#131140"/><text x="1461" y="204.5" font-family="Liberation Sans" font-size="11" fill="#fff" text-anchor="start" font-weight="bold" >3698.6</text><rect x="1451" y="276" width="51" height="17" fill="#ff9800"/><text x="1461" y="288.5" font-family="Liberation Sans" font-size="11" fill="#222" text-anchor="start" font-weight="normal" >3628.5</text><rect x="1461.5" y="50.5" width="31" height="18" rx="3" fill="#fff" stroke="#c9cfdb" stroke-width="1"/><text x="1477" y="63" font-family="Liberation Sans" font-size="10" fill="#333" text-anchor="middle" font-weight="normal" >USD</text><svg x="7" y="911" width="1444" height="26" overflow="hidden"><text x="5.6" y="18" font-family="Liberation Sans" font-size="11" fill="#333" text-anchor="middle" font-weight="normal">21</text><text x="122.6" y="18" font-family="Liberation Sans" font-size="11" fill="#333">10</text><path transform="translate(135.30,7.50) scale(11.5)" d="M.3 .08V.6Q.3 .85 .12 .96M.3 .08H.76V.95L.64 .9M.3 .38H.76M.3 .62H.76" fill="none" stroke="#333" stroke-width="0.0870" stroke-linecap="square"/><text x="276.4" y="18" font-family="Liberation Sans" font-size="11" fill="#333" text-anchor="middle" font-weight="normal">12</text><text x="367.2" y="18" font-family="Liberation Sans" font-size="11" fill="#333" text-anchor="middle" font-weight="normal">19</text><text x="458.6" y="18" font-family="Liberation Sans" font-size="11" fill="#333" text-anchor="middle" font-weight="normal">26</text><text x="536.5" y="18" font-family="Liberation Sans" font-size="11" fill="#333">11</text><path transform="translate(549.20,7.50) scale(11.5)" d="M.3 .08V.6Q.3 .85 .12 .96M.3 .08H.76V.95L.64 .9M.3 .38H.76M.3 .62H.76" fill="none" stroke="#333" stroke-width="0.0870" stroke-linecap="square"/><text x="639.4" y="18" font-family="Liberation Sans" font-size="11" fill="#333" text-anchor="middle" font-weight="normal">10</text><text x="729.4" y="18" font-family="Liberation Sans" font-size="11" fill="#333" text-anchor="middle" font-weight="normal">17</text><text x="810.2" y="18" font-family="Liberation Sans" font-size="11" fill="#333" text-anchor="middle" font-weight="normal">03:30</text><text x="873.3" y="18" font-family="Liberation Sans" font-size="11" fill="#333">12</text><path transform="translate(886.00,7.50) scale(11.5)" d="M.3 .08V.6Q.3 .85 .12 .96M.3 .08H.76V.95L.64 .9M.3 .38H.76M.3 .62H.76" fill="none" stroke="#333" stroke-width="0.0870" stroke-linecap="square"/><text x="975.5" y="18" font-family="Liberation Sans" font-size="11" fill="#333" text-anchor="middle" font-weight="normal">8</text><text x="1066.5" y="18" font-family="Liberation Sans" font-size="11" fill="#333" text-anchor="middle" font-weight="normal">15</text><text x="1156.2" y="18" font-family="Liberation Sans" font-size="11" fill="#333" text-anchor="middle" font-weight="normal">22</text><text x="1283.4" y="18" font-family="Liberation Sans" font-size="11" fill="#333" text-anchor="middle" font-weight="bold">2021</text><text x="1410.2" y="18" font-family="Liberation Sans" font-size="11" fill="#333" text-anchor="middle" font-weight="normal">12</text></svg><path d="M8.5 962.5 Q5 962 6 956.5 Q7 953 10.5 952.5 Q12 947.5 17 947.6 Q21 947.6 23 951 Q26 950 28.5 952.5 Q32.5 955 32 959 Q31.5 962.5 28.5 962.9Z" fill="#2196f3"/><path d="M7 961L15.7 953.5L21.8 959.7L28 952.8" stroke="#fff" stroke-width="1.3" fill="none"/><circle cx="15.7" cy="953.5" r="2" fill="#fff"/><circle cx="21.8" cy="959.7" r="2" fill="#fff"/><text x="34" y="959.7" font-family="Liberation Sans" font-size="12.8" fill="#131722" text-anchor="start" font-weight="normal" >TradingView</text></svg></body></html>
